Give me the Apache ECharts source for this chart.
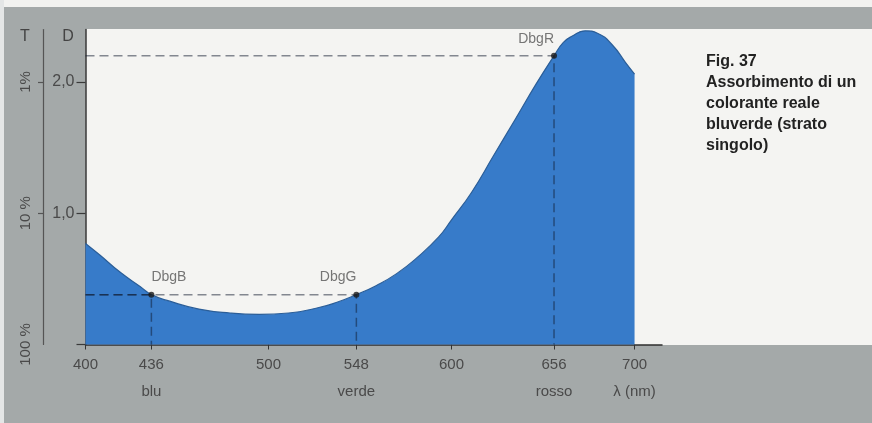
<!DOCTYPE html>
<html>
<head>
<meta charset="utf-8">
<style>
  html, body { margin: 0; padding: 0; background: #a4a9a9; }
  #chart { width: 872px; height: 423px; }
</style>
<script src="https://cdn.jsdelivr.net/npm/echarts@6/dist/echarts.min.js"></script>
</head>
<body>
<div id="chart"></div>
<script>
// ---- data ----
const wavelengths = [400, 408, 419, 430, 436, 446, 462, 479, 495, 511, 527, 537, 548, 559, 570, 581, 593, 600, 611, 623, 635, 646, 656, 661, 666, 673, 680, 688, 695, 700];
const absorbance  = [0.77, 0.68, 0.55, 0.44, 0.38, 0.33, 0.27, 0.24, 0.23, 0.24, 0.28, 0.32, 0.38, 0.45, 0.54, 0.66, 0.82, 0.95, 1.16, 1.44, 1.72, 1.98, 2.20, 2.30, 2.35, 2.39, 2.37, 2.28, 2.15, 2.06];

const markerNames       = ['DbgB', 'DbgG', 'DbgR'];
const markerWavelengths = [436, 548, 656];
const markerDensity     = [0.38, 0.38, 2.20];

const xTickValues = [400, 436, 500, 548, 600, 656, 700];
const xSubLabels  = { 436: 'blu', 548: 'verde', 656: 'rosso', 700: 'λ (nm)' };

const dTickValues = [0, 1, 2];
const dTickLabels = ['', '1,0', '2,0'];
const tTickValues = [0, 1, 2];
const tTickLabels = ['100 %', '10 %', '1%'];

const captionLines = ['Fig. 37', 'Assorbimento di un', 'colorante reale', 'bluverde (strato', 'singolo)'];

// ---- chart ----
const chart = echarts.init(document.getElementById('chart'), null, { renderer: 'canvas' });

const curveData = wavelengths.map((w, i) => [w, absorbance[i]]);
const xMin = 400;

const guideSeries = markerNames.map((n, i) => ({
  type: 'line',
  name: n + '-guide',
  data: [[xMin, markerDensity[i]], [markerWavelengths[i], markerDensity[i]], [markerWavelengths[i], 0]],
  symbol: 'none',
  silent: true,
  z: 4,
  lineStyle: { color: 'rgba(15,25,45,0.5)', width: 1.5, type: [9, 5] }
}));

const dAxisIdx = {};
dTickValues.forEach((v, i) => dAxisIdx[v] = dTickLabels[i]);
const tAxisIdx = {};
tTickValues.forEach((v, i) => tAxisIdx[v] = tTickLabels[i]);

const FONT = 'Liberation Sans, Arial, sans-serif';

const option = {
  backgroundColor: '#a4a9a9',
  animation: false,
  textStyle: { fontFamily: FONT },
  title: {
    text: captionLines.join('\n'),
    left: 701,
    top: 46,
    textStyle: { fontSize: 16, fontWeight: 'bold', color: '#222', lineHeight: 21, fontFamily: FONT }
  },
  graphic: [
    { type: 'rect', z: -10, silent: true, shape: { x: 0, y: 0, width: 872, height: 7 }, style: { fill: '#f2f2f0' } },
    { type: 'rect', z: -10, silent: true, shape: { x: 0, y: 0, width: 4, height: 423 }, style: { fill: '#e4e6e6' } },
    { type: 'rect', z: -10, silent: true, shape: { x: 86, y: 29, width: 786, height: 316 }, style: { fill: '#f4f4f2' } },
    { type: 'text', z: 5, silent: true, style: { x: 25, y: 37, text: 'T', fontSize: 16, fill: '#444', align: 'center', verticalAlign: 'middle', fontFamily: FONT } },
    { type: 'text', z: 5, silent: true, style: { x: 68, y: 37, text: 'D', fontSize: 16, fill: '#444', align: 'center', verticalAlign: 'middle', fontFamily: FONT } }
  ],
  grid: { left: 85.5, right: 210, top: 29.5, bottom: 78.5, containLabel: false },
  xAxis: {
    type: 'value',
    min: 400,
    max: 715,
    splitLine: { show: false },
    axisLine: { show: true, lineStyle: { color: '#2e2e2e', width: 1.5 } },
    axisTick: { show: true, customValues: xTickValues, length: 5, lineStyle: { color: '#333', width: 1 } },
    axisLabel: {
      customValues: xTickValues,
      margin: 11,
      formatter: v => '{a|' + v + '}' + (xSubLabels[v] ? '\n{b|' + xSubLabels[v] + '}' : ''),
      rich: {
        a: { fontSize: 15, color: '#4a4a4a', lineHeight: 18, fontFamily: FONT },
        b: { fontSize: 15, color: '#4a4a4a', lineHeight: 36, fontFamily: FONT }
      }
    }
  },
  yAxis: [
    {
      type: 'value',
      min: 0,
      max: 2.4,
      position: 'left',
      splitLine: { show: false },
      axisLine: { show: true, lineStyle: { color: '#3a3a3a', width: 1.5 } },
      axisTick: { show: true, customValues: dTickValues, length: 9, lineStyle: { color: '#3a3a3a', width: 1.2 } },
      axisLabel: {
        customValues: dTickValues,
        margin: 11,
        fontSize: 16,
        color: '#4a4a4a',
        formatter: v => dAxisIdx[v] !== undefined ? dAxisIdx[v] : ''
      }
    },
    {
      type: 'value',
      min: 0,
      max: 2.4,
      position: 'left',
      offset: 42.5,
      splitLine: { show: false },
      axisLine: { show: true, lineStyle: { color: '#555', width: 1.2 } },
      axisTick: { show: true, customValues: [1, 2], length: 5, lineStyle: { color: '#555', width: 1.2 } },
      axisLabel: {
        customValues: tTickValues,
        margin: 10,
        rotate: 90,
        fontSize: 15,
        color: '#4a4a4a',
        formatter: v => tAxisIdx[v] !== undefined ? tAxisIdx[v] : ''
      }
    }
  ],
  series: [
    {
      type: 'line',
      name: 'absorbance',
      data: curveData,
      smooth: 0.5,
      symbol: 'none',
      z: 2,
      lineStyle: { color: '#2b5e98', width: 1.2 },
      areaStyle: { color: '#377bc9', opacity: 1 }
    },
    ...guideSeries,
    {
      type: 'scatter',
      name: 'markers',
      data: markerNames.map((n, i) => ({
        value: [markerWavelengths[i], markerDensity[i]],
        name: n,
        label: { align: i === 0 ? 'left' : 'right' }
      })),
      symbolSize: 6,
      z: 6,
      itemStyle: { color: '#1a1a1a' },
      label: {
        show: true,
        position: 'top',
        distance: 7,
        formatter: p => p.name,
        fontSize: 14,
        color: '#555',
        fontFamily: FONT
      }
    }
  ]
};

chart.setOption(option);
</script>
</body>
</html>
